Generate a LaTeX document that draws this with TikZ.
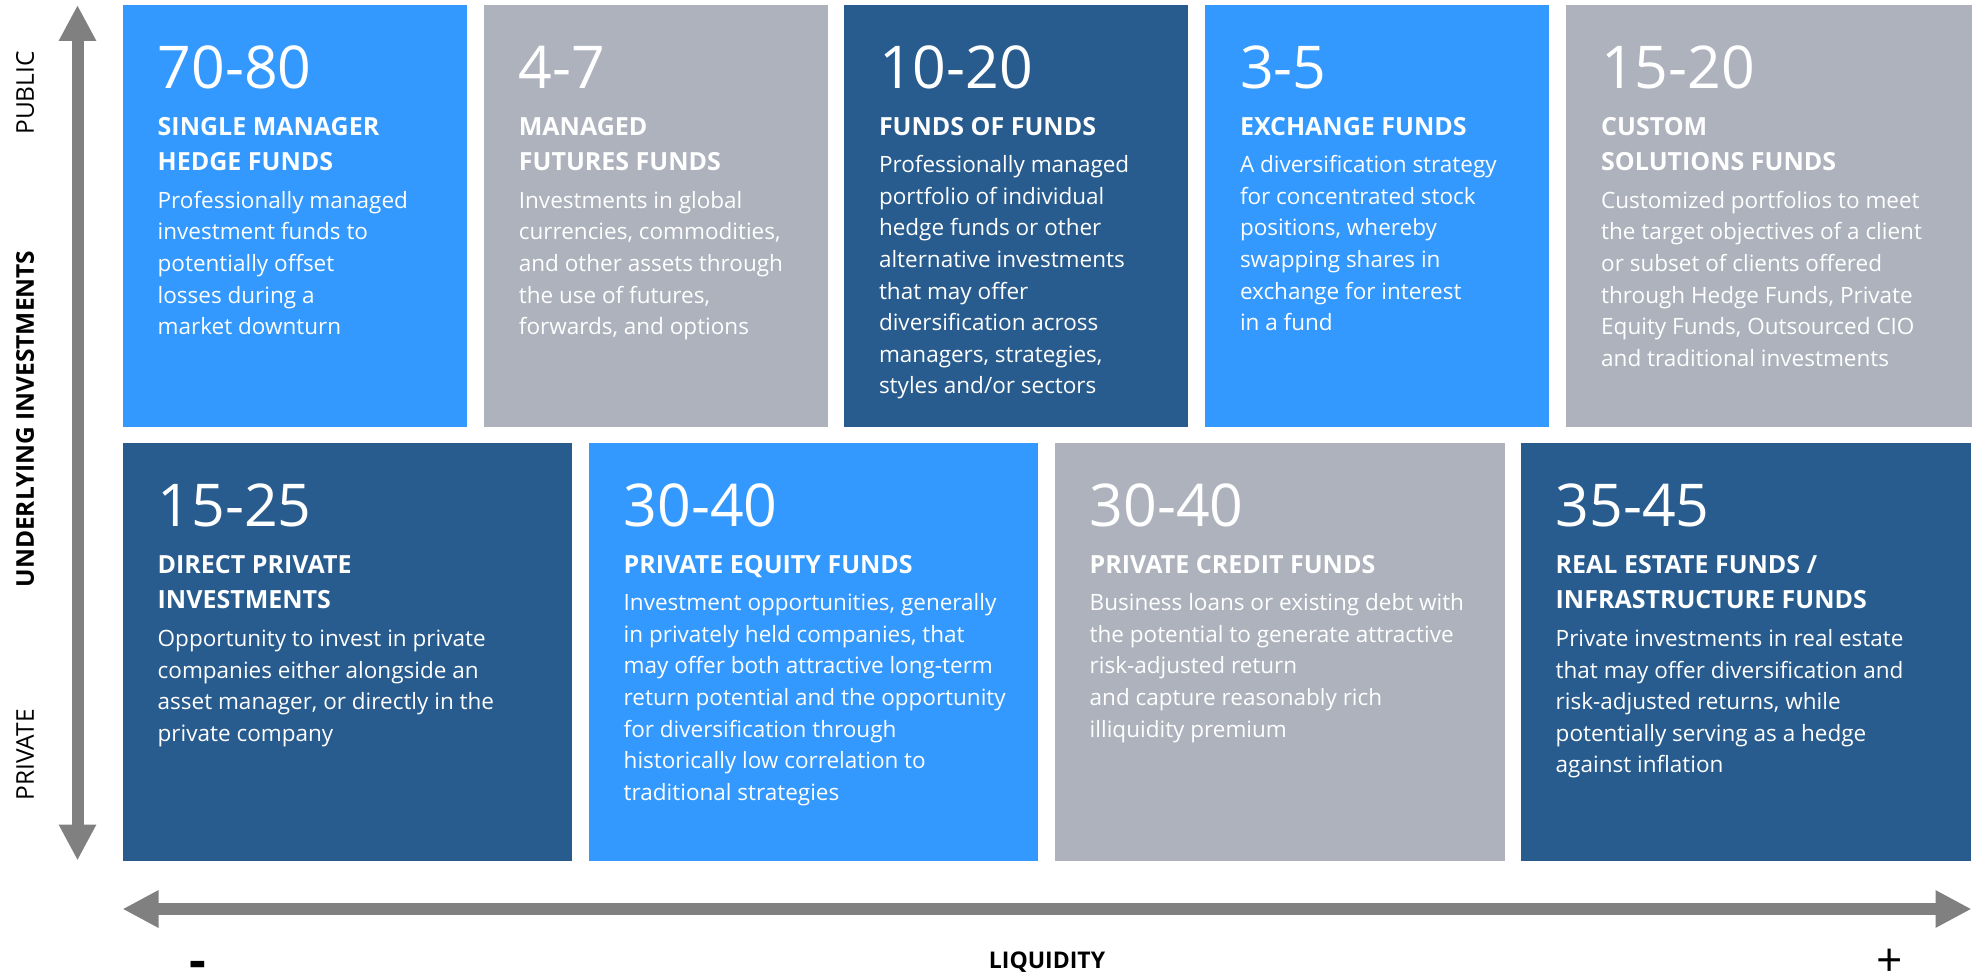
\documentclass[tikz,border=0pt]{standalone}
\usepackage{fontspec}
\setmainfont{Open Sans}
\usetikzlibrary{arrows.meta}
\definecolor{brightblue}{HTML}{3399FF}
\definecolor{darkblue}{HTML}{285C8E}
\definecolor{slategray}{HTML}{ADB2BD}
\definecolor{arrowgray}{HTML}{808080}
\newcommand{\celltext}[3]{%
\begin{minipage}[t]{420pt}\raggedright\lineskiplimit=-\maxdimen\parskip=0pt
{\fontsize{59}{59}\selectfont #1\par}
\vskip 11pt
{\fontsize{25}{35.7}\selectfont\bfseries #2\par}
\vskip 6.1pt
{\fontsize{22.5}{31.6}\selectfont #3\par}
\end{minipage}}
\tikzset{
  cell/.style={rectangle, draw=none, inner sep=0pt, outer sep=0pt, anchor=north west},
  toprow/.style={cell, minimum width=#1, minimum height=422pt},
  botrow/.style={cell, minimum width=#1, minimum height=418pt},
  celllabel/.style={anchor=base west, inner sep=0pt, text=white},
  axisarrow/.style={line width=12pt, draw=arrowgray, {Triangle[length=36pt,width=35pt]}-{Triangle[length=36pt,width=35pt]}},
  axislabel/.style={inner sep=0pt, text=black}
}
\begin{document}
\begin{tikzpicture}[x=1pt,y=-1pt]
\path[use as bounding box] (0,0) rectangle (1980,974);
% top row
\node[toprow=344.5pt, fill=brightblue] (b1) at (122.5,5) {};
\node[toprow=344.5pt, fill=slategray] (b2) at (483.7,5) {};
\node[toprow=344.5pt, fill=darkblue] (b3) at (843.8,5) {};
\node[toprow=344.5pt, fill=brightblue] (b4) at (1204.8,5) {};
\node[toprow=406pt, fill=slategray] (b5) at (1566,5) {};
% bottom row
\node[botrow=449.5pt, fill=darkblue] (c1) at (122.5,443) {};
\node[botrow=449.5pt, fill=brightblue] (c2) at (588.5,443) {};
\node[botrow=450.5pt, fill=slategray] (c3) at (1054.5,443) {};
\node[botrow=450.5pt, fill=darkblue] (c4) at (1520.5,443) {};
% texts top
\node[celllabel] (t1) at ([shift={(35,83.3)}]b1.north west) {\celltext{70-80}{SINGLE MANAGER\\HEDGE FUNDS}{Professionally managed\\investment funds to\\potentially offset\\losses during a\\market downturn}};
\node[celllabel] (t2) at ([shift={(35,83.3)}]b2.north west) {\celltext{4-7}{MANAGED\\FUTURES FUNDS}{Investments in global\\currencies, commodities,\\and other assets through\\the use of futures,\\forwards, and options}};
\node[celllabel] (t3) at ([shift={(35,83.3)}]b3.north west) {\celltext{10-20}{FUNDS OF FUNDS}{Professionally managed\\portfolio of individual\\hedge funds or other\\alternative investments\\that may offer\\diversification across\\managers, strategies,\\styles and/or sectors}};
\node[celllabel] (t4) at ([shift={(35,83.3)}]b4.north west) {\celltext{3-5}{EXCHANGE FUNDS}{A diversification strategy\\for concentrated stock\\positions, whereby\\swapping shares in\\exchange for interest\\in a fund}};
\node[celllabel] (t5) at ([shift={(35,83.3)}]b5.north west) {\celltext{15-20}{CUSTOM\\SOLUTIONS FUNDS}{Customized portfolios to meet\\the target objectives of a client\\or subset of clients offered\\through Hedge Funds, Private\\Equity Funds, Outsourced CIO\\and traditional investments}};
% texts bottom
\node[celllabel] (u1) at ([shift={(35,83.3)}]c1.north west) {\celltext{15-25}{DIRECT PRIVATE\\INVESTMENTS}{Opportunity to invest in private\\companies either alongside an\\asset manager, or directly in the\\private company}};
\node[celllabel] (u2) at ([shift={(35,83.3)}]c2.north west) {\celltext{30-40}{PRIVATE EQUITY FUNDS}{Investment opportunities, generally\\in privately held companies, that\\may offer both attractive long-term\\return potential and the opportunity\\for diversification through\\historically low correlation to\\traditional strategies}};
\node[celllabel] (u3) at ([shift={(35,83.3)}]c3.north west) {\celltext{30-40}{PRIVATE CREDIT FUNDS}{Business loans or existing debt with\\the potential to generate attractive\\risk-adjusted return\\and capture reasonably rich\\illiquidity premium}};
\node[celllabel] (u4) at ([shift={(35,83.3)}]c4.north west) {\celltext{35-45}{REAL ESTATE FUNDS /\\INFRASTRUCTURE FUNDS}{Private investments in real estate\\that may offer diversification and\\risk-adjusted returns, while\\potentially serving as a hedge\\against inflation}};
% axes
\coordinate (vt) at (77.5,5);
\coordinate (vb) at (77.5,860.5);
\coordinate (hl) at (122.5,909);
\coordinate (hr) at (1971.5,909);
\draw[axisarrow] (vt) -- (vb);
\draw[axisarrow] (hl) -- (hr);
% axis labels
\node[axislabel, rotate=90, font=\fontsize{24.5}{24.5}\selectfont] (pub) at (25,93) {PUBLIC};
\node[axislabel, rotate=90, font=\fontsize{24.5}{24.5}\selectfont\bfseries] (und) at (25,419) {UNDERLYING INVESTMENTS};
\node[axislabel, rotate=90, font=\fontsize{24.5}{24.5}\selectfont] (pri) at (25,755) {PRIVATE};
\node[axislabel, font=\fontsize{23}{23}\selectfont\bfseries] (liq) at (1047,962) {LIQUIDITY};
\node[axislabel, anchor=base, font=\fontsize{52}{52}\selectfont\bfseries] (minus) at (198,978) {-};
\node[axislabel, anchor=base, font=\fontsize{46}{46}\selectfont] (plus) at (1890,976) {+};
\end{tikzpicture}
\end{document}
